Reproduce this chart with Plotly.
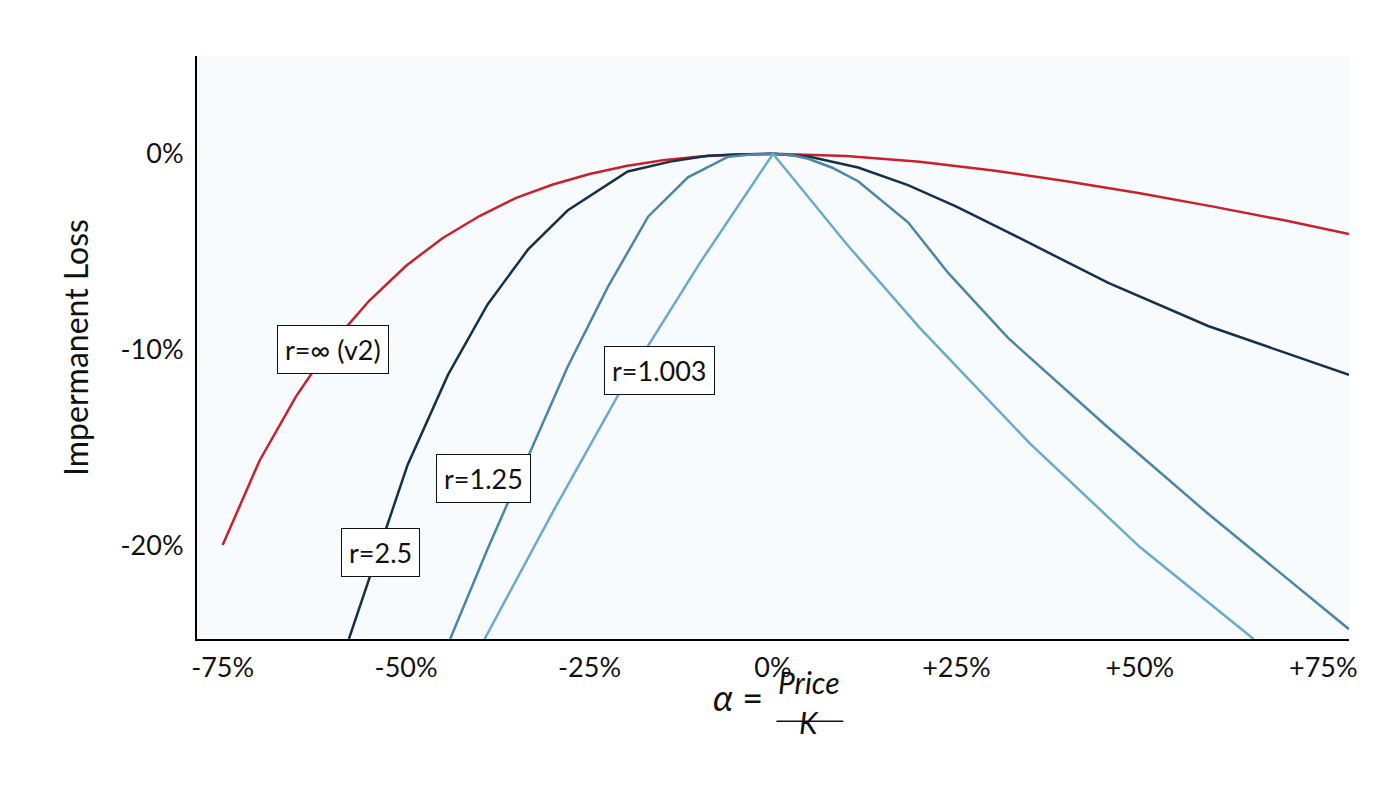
import plotly.graph_objects as go

# alpha (%) vs impermanent loss (%)
x_v2 = [-75, -70, -65, -60, -55, -50, -45, -40, -35, -30, -25, -20, -15, -10, -5, 0,
        10, 20, 30, 40, 50, 60, 70, 78.5]
y_v2 = [-20.0, -15.7, -12.4, -9.65, -7.5, -5.72, -4.3, -3.18, -2.25, -1.57, -1.03, -0.62,
        -0.33, -0.14, -0.03, 0, -0.11, -0.41, -0.85, -1.40, -2.02, -2.70, -3.42, -4.1]

x_r25 = [-57.8, -53.9, -49.8, -44.3, -38.9, -33.4, -28.0, -19.8, -14, -8.9, -4, 0,
         5, 11.6, 18.4, 25, 32, 45.7, 59.3, 78.5]
y_r25 = [-24.8, -20.5, -15.9, -11.3, -7.7, -4.9, -2.9, -0.9, -0.4, -0.1, -0.02, 0,
         -0.15, -0.7, -1.6, -2.7, -4.0, -6.6, -8.8, -11.3]

x_r125 = [-44.0, -38.9, -33.4, -28.0, -22.5, -17.0, -11.6, -6.1, -3, 0,
          2.5, 4.8, 8, 11.6, 18.4, 23.9, 32, 45.7, 59.3, 78.5]
y_r125 = [-24.8, -20.2, -15.5, -10.9, -6.8, -3.2, -1.2, -0.15, -0.03, 0,
          -0.06, -0.25, -0.7, -1.4, -3.5, -6.1, -9.4, -14.0, -18.4, -24.3]

x_r1003 = [-39.3, -30, -20, -10, 0, 10, 20, 35, 50, 65.5]
y_r1003 = [-24.8, -18.3, -11.6, -5.6, 0, -4.6, -8.9, -14.8, -20.1, -24.8]

series = [
    (x_v2, y_v2, "#c8202e"),
    (x_r25, y_r25, "#15304a"),
    (x_r125, y_r125, "#4a86a6"),
    (x_r1003, y_r1003, "#6aaaca"),
]

labels = [("r=∞ (v2)", -60, -10.0), ("r=1.003", -15.5, -11.1),
          ("r=1.25", -39.5, -16.6), ("r=2.5", -53.5, -20.4)]

fig = go.Figure()
for xs, ys, c in series:
    fig.add_trace(go.Scatter(x=xs, y=ys, mode="lines", line=dict(color=c, width=2.5),
                             showlegend=False))

for t, x, y in labels:
    fig.add_annotation(x=x, y=y, text=t, showarrow=False, font=dict(size=27, color="#111"),
                       bgcolor="white", bordercolor="#111", borderwidth=1, borderpad=7)

# x-axis title as a fraction
ax = dict(xref="paper", yref="paper", showarrow=False, font=dict(size=30, color="#111"))
fig.add_annotation(x=0.4696, y=-0.141, text="<i>α</i> =", font=dict(size=36, color="#111"),
                   xref="paper", yref="paper", showarrow=False)
fig.add_annotation(x=0.531, y=-0.108, text="<i>Price</i>", **ax)
fig.add_annotation(x=0.531, y=-0.177, text="<i>K</i>", **ax)
fig.add_shape(type="line", xref="paper", yref="paper", x0=0.503, x1=0.561, y0=-0.141, y1=-0.141,
              line=dict(color="#111", width=1.5))

fig.update_layout(
    width=1400, height=793,
    margin=dict(l=189, r=59, t=48, b=162),
    paper_bgcolor="white", plot_bgcolor="#f8fbfd",
    font=dict(family="Lato, Liberation Sans, sans-serif", size=26, color="#111"),
    xaxis=dict(range=[-78.5, 78.5], tickvals=[-75, -50, -25, 0, 25, 50, 75],
               ticktext=["-75%", "-50%", "-25%", "0%", "+25%", "+50%", "+75%"],
               showgrid=False, zeroline=False, showline=True, linecolor="black", linewidth=2,
               tickfont=dict(size=27), ticks="outside", ticklen=4, tickcolor="white"),
    yaxis=dict(range=[-24.8, 5], tickvals=[0, -10, -20], ticktext=["0%", "-10%", "-20%"],
               showgrid=False, zeroline=False, showline=True, linecolor="black", linewidth=2,
               tickfont=dict(size=27), ticks="outside", ticklen=6, tickcolor="white",
               title=dict(text="Impermanent Loss", font=dict(size=32), standoff=22)),
)

fig.write_html("out.html")
